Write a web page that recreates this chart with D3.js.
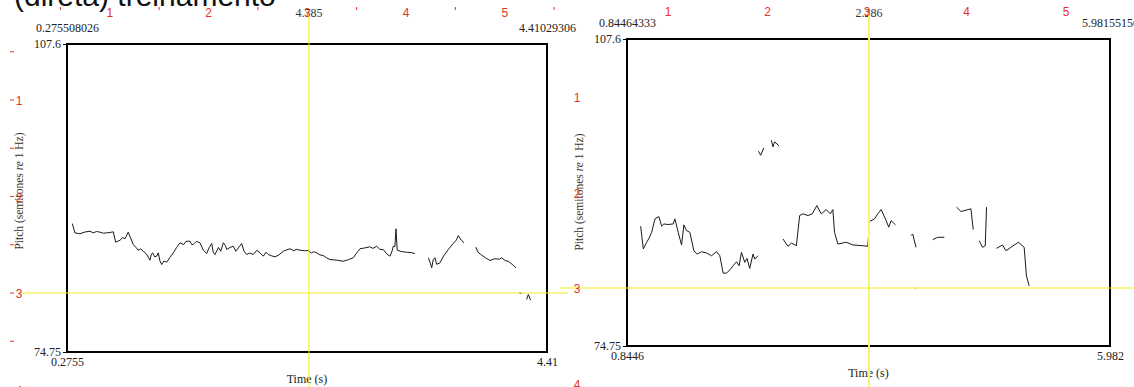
<!DOCTYPE html>
<html><head><meta charset="utf-8">
<script src="https://cdn.jsdelivr.net/npm/d3@7"></script>
<style>body{margin:0;background:#fff}svg{display:block}</style>
</head><body>
<svg id="c" width="1134" height="387"></svg>
<script>
// Slide heading (only its lower part sits inside the view)
const heading = "(direta) treinamento";

// Shared pitch range of both panels
const pitchRange = [74.75, 107.6];
const pitchRangeLabels = ["74.75", "107.6"];

// Left panel: time window and labels
const leftTimeRange = [0.2755, 4.41];
const leftTimeFull = ["0.275508026", "4.41029306"];
const leftTimeShort = ["0.2755", "4.41"];
const leftCursorLabel = "4.785";

// Right panel: time window and labels
const rightTimeRange = [0.8446, 5.982];
const rightTimeFull = ["0.84464333", "5.98155156"];
const rightTimeShort = ["0.8446", "5.982"];
const rightCursorLabel = "2.286";

// Ruler numbers along the slide edges
const rulerNumbers = [1, 2, 3, 4, 5];
const rulerHalfSteps = [0.5, 1.5, 2.5, 3.5, 4.5, 5.5];

// Pitch contour, left panel: voiced stretches as [time (s), pitch]
const leftPitch = [
  [[0.321,88.45],[0.344,87.46],[0.387,87.36],[0.430,87.55],[0.474,87.63],[0.502,87.46],[0.530,87.6],[0.560,87.53],
   [0.590,87.42],[0.617,87.46],[0.645,87.5],[0.674,87.57],[0.695,86.46],[0.732,86.67],[0.755,86.95],[0.775,86.82],
   [0.803,87.53],[0.846,86.21],[0.870,85.9],[0.889,85.61],[0.910,85.75],[0.932,85.50],[0.960,85.2],[0.990,84.54],
   [1.000,85.1],[1.013,85.33],[1.030,84.9],[1.048,84.97],[1.062,85.33],[1.075,84.5],[1.091,84.08],[1.110,84.45],
   [1.134,84.33],[1.160,84.8],[1.191,85.33],[1.220,85.9],[1.249,86.40],[1.280,86.2],[1.300,86.55],[1.335,86.57],
   [1.350,86.2],[1.363,86.21],[1.390,86.55],[1.421,86.40],[1.450,85.6],[1.479,85.25],[1.500,85.9],[1.522,86.32],
   [1.535,85.4],[1.550,85.15],[1.580,85.9],[1.600,85.5],[1.622,86.40],[1.640,86.1],[1.651,85.68],[1.680,85.9],
   [1.708,86.03],[1.730,85.5],[1.760,86.0],[1.780,86.32],[1.800,85.5],[1.823,85.15],[1.850,85.3],[1.880,85.15],
   [1.910,85.6],[1.938,85.33],[1.966,84.97],[1.990,85.4],[2.009,85.15],[2.040,85.0],[2.067,84.90],[2.100,85.1],
   [2.139,85.50],[2.170,85.65],[2.196,85.76],[2.230,85.55],[2.250,85.7],[2.282,85.61],[2.320,85.55],[2.354,85.57],
   [2.380,85.3],[2.400,85.45],[2.426,85.33],[2.455,85.1],[2.483,85.04],[2.510,84.8],[2.541,84.61],[2.600,84.55],
   [2.655,84.43],[2.700,84.6],[2.741,84.80],[2.770,85.3],[2.799,85.76],[2.840,85.85],[2.885,85.97],[2.910,85.8],
   [2.943,86.03],[2.970,85.7],[3.000,85.68],[3.030,85.2],[3.058,84.97],[3.075,85.5],[3.086,86.03],[3.100,86.0],
   [3.109,87.89],[3.120,85.61],[3.160,85.45],[3.201,85.39],[3.240,85.35],[3.273,85.25]],
  [[3.388,84.80],[3.403,84.3],[3.417,83.73],[3.430,84.6],[3.445,84.80],[3.460,84.1],[3.488,84.26],[3.520,85.0],
   [3.560,85.68],[3.600,86.3],[3.630,86.7],[3.646,87.17],[3.670,86.7],[3.695,86.40]],
  [[3.798,85.93],[3.815,85.4],[3.839,85.15],[3.880,84.8],[3.919,84.51],[3.960,84.7],[4.000,84.65],[4.020,84.80],
   [4.050,84.5],[4.077,84.43],[4.110,84.1],[4.143,83.73]],
  [[4.171,81.06],[4.192,80.99]],
  [[4.235,80.35],[4.249,80.88],[4.269,80.27]]
];

// Pitch contour, right panel
const rightPitch = [
  [[0.990,87.57],[1.018,85.13],[1.054,85.85],[1.080,86.3],[1.107,86.92],[1.142,88.35],[1.184,88.60],[1.213,87.57],
   [1.237,87.81],[1.280,87.75],[1.336,87.81],[1.354,88.35],[1.389,86.92],[1.425,85.56],[1.450,87.71],[1.478,87.09],
   [1.513,86.92],[1.556,84.94],[1.591,84.59],[1.637,84.84],[1.691,84.70],[1.744,84.41],[1.797,84.84],[1.832,84.41],
   [1.867,82.55],[1.903,82.55],[1.940,82.9],[1.973,83.33],[2.009,83.76],[2.037,83.33],[2.062,84.77],[2.097,83.70],
   [2.121,84.13],[2.150,83.05],[2.185,84.59],[2.203,84.05],[2.238,84.41]],
  [[2.242,95.59],[2.267,95.16],[2.299,95.95]],
  [[2.380,96.77],[2.397,96.06],[2.415,96.60],[2.461,96.17]],
  [[2.504,86.20],[2.557,85.42],[2.593,85.77],[2.646,85.48],[2.681,88.71],[2.716,88.89],[2.769,88.71],[2.816,88.89],
   [2.864,89.78],[2.911,88.89],[2.964,89.35],[3.007,88.89],[3.034,89.35],[3.052,86.92],[3.087,85.66],[3.176,85.85],
   [3.247,85.56],[3.353,85.48],[3.406,85.42],[3.424,88.06],[3.477,88.35],[3.512,88.89],[3.548,89.35],[3.601,88.17],
   [3.629,87.46],[3.654,88.17],[3.700,87.71]],
  [[3.866,86.56],[3.883,86.74],[3.919,85.31]],
  [[3.905,80.93],[3.912,80.93]],
  [[4.096,86.13],[4.149,86.38],[4.220,86.38]],
  [[4.350,89.61],[4.397,89.14],[4.503,89.43],[4.527,87.20]],
  [[4.591,86.02],[4.626,85.31],[4.655,85.48],[4.669,89.61]],
  [[4.775,85.20],[4.839,85.56],[4.875,84.94],[4.928,85.31],[5.008,85.85],[5.069,85.31],[5.093,82.26],[5.122,81.18]]
];

const svg = d3.select("#c");
const serif = "'Liberation Serif','Times New Roman',serif";
const sans = "'Liberation Sans',Arial,sans-serif";
const red = "#e5332a";

// heading, mostly above the visible area
svg.append("text").attr("x", 14).attr("y", 6)
  .attr("font-family", sans).attr("font-size", 30).attr("fill", "#111")
  .text(heading);

function panel(cfg) {
  const x = d3.scaleLinear().domain(cfg.time).range([cfg.x0, cfg.x1]);
  const y = d3.scaleLinear().domain(pitchRange).range([cfg.y1, cfg.y0]);
  const g = svg.append("g");

  // contour
  const line = d3.line().x(d => x(d[0])).y(d => y(d[1]));
  g.selectAll("path.pitch").data(cfg.pitch).join("path")
    .attr("class", "pitch").attr("d", line)
    .attr("fill", "none").attr("stroke", "#1a1a1a").attr("stroke-width", 1)
    .attr("stroke-linejoin", "round");

  // frame
  g.append("rect").attr("x", cfg.x0).attr("y", cfg.y0)
    .attr("width", cfg.x1 - cfg.x0).attr("height", cfg.y1 - cfg.y0)
    .attr("fill", "none").attr("stroke", "#000").attr("stroke-width", 2);

  // pitch extremes on the left edge
  const yAxis = d3.axisLeft(y).tickValues(pitchRange).tickSize(4)
    .tickFormat((d, i) => pitchRangeLabels[i]);
  const ya = g.append("g").attr("transform", `translate(${cfg.x0},0)`).call(yAxis);
  ya.select(".domain").remove();
  ya.selectAll("line").attr("stroke", "#000");
  ya.selectAll("text").attr("font-family", serif).attr("font-size", 12).attr("fill", "#222").attr("dx", 1);

  // time extremes below
  const xBottom = d3.axisBottom(x).tickValues(cfg.time).tickSize(0)
    .tickFormat((d, i) => cfg.timeShort[i]);
  const xb = g.append("g").attr("transform", `translate(0,${cfg.y1})`).call(xBottom);
  xb.select(".domain").remove();
  xb.selectAll("text").attr("font-family", serif).attr("font-size", 12).attr("fill", "#222").attr("dy", "0.95em");

  // full-precision time extremes above
  const xTop = d3.axisTop(x).tickValues(cfg.time).tickSize(0)
    .tickFormat((d, i) => cfg.timeFull[i]);
  const xt = g.append("g").attr("transform", `translate(0,${cfg.y0 - 9})`).call(xTop);
  xt.select(".domain").remove();
  xt.selectAll("text").attr("font-family", serif).attr("font-size", 12).attr("fill", "#222");

  // axis titles
  g.append("text").attr("x", (cfg.x0 + cfg.x1) / 2).attr("y", cfg.y1 + 31)
    .attr("text-anchor", "middle").attr("font-family", serif).attr("font-size", 12).attr("fill", "#222")
    .text("Time (s)");
  const py = g.append("text")
    .attr("transform", `translate(${cfg.labelX},${cfg.labelY}) rotate(-90)`)
    .attr("text-anchor", "middle").attr("font-family", serif).attr("font-size", 11.5).attr("fill", "#333");
  py.append("tspan").text("Pitch (semitones ");
  py.append("tspan").attr("font-style", "italic").text("re");
  py.append("tspan").text(" 1 Hz)");

  // cursor time above the plot
  g.append("text").attr("x", cfg.guideX).attr("y", 17).attr("text-anchor", "middle")
    .attr("font-family", serif).attr("font-size", 12).attr("fill", "#334").text(cfg.cursor);

  // yellow guides
  g.append("line").attr("x1", cfg.guideX).attr("x2", cfg.guideX).attr("y1", 13).attr("y2", 387)
    .attr("stroke", cfg.guideColor).attr("stroke-width", cfg.guideWidth);
  g.append("line").attr("x1", cfg.hGuide[0]).attr("x2", cfg.hGuide[1]).attr("y1", cfg.hGuideY).attr("y2", cfg.hGuideY)
    .attr("stroke", "#f2ee1a").attr("stroke-width", 1);

  // rulers
  const rx = d3.scaleLinear().domain([0, 1]).range(cfg.rulerX);
  const ry = d3.scaleLinear().domain([0, 1]).range(cfg.rulerY);
  g.selectAll("text.rtop").data(rulerNumbers).join("text").attr("class", "rtop")
    .attr("x", d => rx(d)).attr("y", cfg.rulerTopY).attr("text-anchor", "middle")
    .attr("font-family", sans).attr("font-size", 12).attr("fill", red).text(d => d);
  if (cfg.halfTicks) {
    g.selectAll("line.rht").data(rulerHalfSteps).join("line").attr("class", "rht")
      .attr("x1", d => rx(d)).attr("x2", d => rx(d)).attr("y1", 7).attr("y2", 10)
      .attr("stroke", red).attr("stroke-width", 1);
    g.selectAll("line.rhl").data([0.5, 1, 1.5, 2, 2.5, 3, 3.5]).join("line").attr("class", "rhl")
      .attr("x1", 10).attr("x2", 14).attr("y1", d => ry(d)).attr("y2", d => ry(d))
      .attr("stroke", red).attr("stroke-width", 1);
  }
  g.selectAll("text.rleft").data([1, 2, 3, 4]).join("text").attr("class", "rleft")
    .attr("x", cfg.rulerLeftX).attr("y", d => ry(d) + 5).attr("text-anchor", "middle")
    .attr("font-family", sans).attr("font-size", 12).attr("fill", red).text(d => d);
}

panel({
  time: leftTimeRange, timeFull: leftTimeFull, timeShort: leftTimeShort, pitch: leftPitch,
  x0: 67, x1: 547, y0: 44, y1: 352, labelX: 23, labelY: 191,
  cursor: leftCursorLabel, guideX: 309, guideColor: "#f5f000", guideWidth: 1,
  hGuide: [22, 568], hGuideY: 293,
  rulerX: [11, 109.75], rulerY: [3.5, 100], rulerTopY: 17, rulerLeftX: 19, halfTicks: true
});
panel({
  time: rightTimeRange, timeFull: rightTimeFull, timeShort: rightTimeShort, pitch: rightPitch,
  x0: 627, x1: 1110, y0: 39, y1: 346, labelX: 583, labelY: 192,
  cursor: rightCursorLabel, guideX: 869, guideColor: "#f7f27a", guideWidth: 2,
  hGuide: [560, 1134], hGuideY: 288,
  rulerX: [568.5, 668], rulerY: [1.5, 97], rulerTopY: 16, rulerLeftX: 577, halfTicks: false
});
</script>
</body></html>
